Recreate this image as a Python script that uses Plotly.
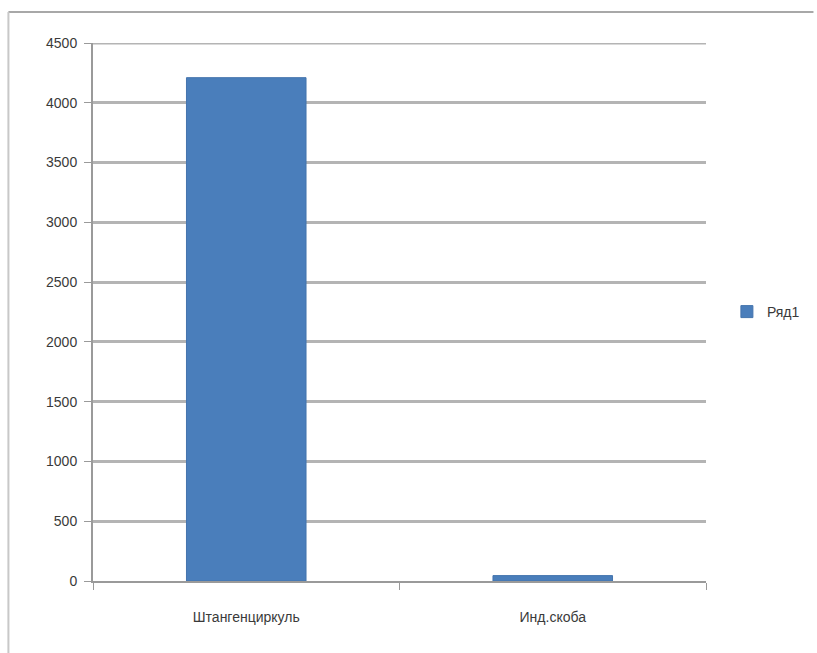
import plotly.graph_objects as go

categories = ["Штангенциркуль", "Инд.скоба"]
values = [4210, 45]
series_name = "Ряд1"
y_ticks = [0, 500, 1000, 1500, 2000, 2500, 3000, 3500, 4000, 4500]

W, H = 817, 653
L, R, T, B = 93, 108, 43, 72
PW, PH = W - L - R, H - T - B

fig = go.Figure()
fig.add_trace(go.Bar(
    x=categories, y=values, name=series_name,
    marker=dict(color="#4a7ebb", line=dict(color="#4474ad", width=1)),
    width=0.39,
))

fnt = "Liberation Sans, Arial, sans-serif"

fig.update_layout(
    width=W, height=H,
    margin=dict(l=L, r=R, t=T, b=B),
    paper_bgcolor="white", plot_bgcolor="white",
    font=dict(family=fnt, size=14, color="#3a3a3a"),
    showlegend=True,
    legend=dict(x=(730 - L) / PW, y=0.5, xanchor="left", yanchor="middle",
                font=dict(family=fnt, size=14, color="#3a3a3a"),
                bgcolor="rgba(0,0,0,0)", itemwidth=30),
    xaxis=dict(
        type="category", tickson="boundaries", ticks="outside", ticklen=7,
        tickcolor="#9a9a9a", showline=True, linecolor="#9a9a9a", linewidth=2,
        showgrid=False, tickfont=dict(size=14), range=[-0.5, 1.5],
        ticklabelstandoff=22,
    ),
    yaxis=dict(
        range=[0, 4500], tickvals=y_ticks, ticks="outside", ticklen=7,
        tickcolor="#9a9a9a", showline=True, linecolor="#9a9a9a", linewidth=2,
        showgrid=True, gridcolor="#b4b4b4", gridwidth=3, zeroline=False,
        tickfont=dict(size=14), ticklabelstandoff=4,
    ),
    shapes=[
        # top gridline at the axis maximum
        dict(type="line", xref="paper", yref="y", x0=0, x1=1, y0=4500, y1=4500,
             line=dict(color="#b4b4b4", width=3), layer="below"),
        # chart-area border (top and left)
        dict(type="line", xref="paper", yref="paper",
             x0=(8 - L) / PW, x1=(W - L) / PW,
             y0=(H - B - 12) / PH, y1=(H - B - 12) / PH,
             line=dict(color="#a8a8a8", width=2)),
        dict(type="line", xref="paper", yref="paper",
             x0=(8 - L) / PW, x1=(8 - L) / PW,
             y0=-B / PH, y1=(H - B - 12) / PH,
             line=dict(color="#c8c8c8", width=2)),
    ],
)

fig.write_html("out.html")
